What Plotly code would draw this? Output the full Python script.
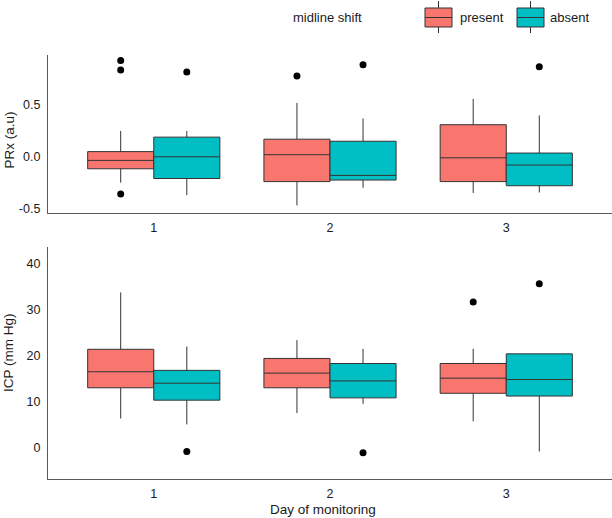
import plotly.graph_objects as go
from plotly.subplots import make_subplots

# ---------------- data ----------------
DAYS = [1, 2, 3]
DAY_LABELS = ["1", "2", "3"]
GROUPS = ["present", "absent"]

# PRx (a.u)
PRX_PRESENT_LOWER = [-0.25, -0.47, -0.35]
PRX_PRESENT_Q1 = [-0.116, -0.24, -0.24]
PRX_PRESENT_MEDIAN = [-0.035, 0.02, -0.01]
PRX_PRESENT_Q3 = [0.05, 0.17, 0.31]
PRX_PRESENT_UPPER = [0.25, 0.52, 0.56]
PRX_PRESENT_OUTLIERS = [[0.93, 0.84, -0.36], [0.78], []]

PRX_ABSENT_LOWER = [-0.37, -0.30, -0.345]
PRX_ABSENT_Q1 = [-0.21, -0.225, -0.28]
PRX_ABSENT_MEDIAN = [0.0, -0.18, -0.08]
PRX_ABSENT_Q3 = [0.19, 0.15, 0.036]
PRX_ABSENT_UPPER = [0.25, 0.37, 0.40]
PRX_ABSENT_OUTLIERS = [[0.82], [0.89], [0.87]]

# ICP (mm Hg)
ICP_PRESENT_LOWER = [6.3, 7.5, 5.7]
ICP_PRESENT_Q1 = [13.0, 13.0, 11.8]
ICP_PRESENT_MEDIAN = [16.5, 16.2, 15.1]
ICP_PRESENT_Q3 = [21.4, 19.4, 18.3]
ICP_PRESENT_UPPER = [33.8, 23.4, 21.5]
ICP_PRESENT_OUTLIERS = [[], [], [31.7]]

ICP_ABSENT_LOWER = [5.0, 9.5, -0.9]
ICP_ABSENT_Q1 = [10.3, 10.8, 11.2]
ICP_ABSENT_MEDIAN = [14.0, 14.5, 14.8]
ICP_ABSENT_Q3 = [16.8, 18.3, 20.4]
ICP_ABSENT_UPPER = [22.0, 21.5, 20.4]
ICP_ABSENT_OUTLIERS = [[-0.9], [-1.2], [35.7]]

# ---------------- style ----------------
COLORS = {"present": "#F8766D", "absent": "#00BFC4"}
DODGE = 0.1875
BOX_W = 0.375
OFFSETS = {"present": -DODGE, "absent": DODGE}
FONT = "Liberation Sans, Arial, Helvetica, sans-serif"
TXT_C = "#1a1a1a"
LINE_C = "#333333"
W, H = 612, 518
ML, MR, MT, MB = 48, 0, 55, 39

panels = [
    (1, {
        "present": (PRX_PRESENT_LOWER, PRX_PRESENT_Q1, PRX_PRESENT_MEDIAN, PRX_PRESENT_Q3, PRX_PRESENT_UPPER, PRX_PRESENT_OUTLIERS),
        "absent": (PRX_ABSENT_LOWER, PRX_ABSENT_Q1, PRX_ABSENT_MEDIAN, PRX_ABSENT_Q3, PRX_ABSENT_UPPER, PRX_ABSENT_OUTLIERS),
    }),
    (2, {
        "present": (ICP_PRESENT_LOWER, ICP_PRESENT_Q1, ICP_PRESENT_MEDIAN, ICP_PRESENT_Q3, ICP_PRESENT_UPPER, ICP_PRESENT_OUTLIERS),
        "absent": (ICP_ABSENT_LOWER, ICP_ABSENT_Q1, ICP_ABSENT_MEDIAN, ICP_ABSENT_Q3, ICP_ABSENT_UPPER, ICP_ABSENT_OUTLIERS),
    }),
]

fig = make_subplots(rows=2, cols=1, vertical_spacing=0.08)

for row, data in panels:
    for g in GROUPS:
        low, q1, med, q3, up, outs = data[g]
        xs = [d + OFFSETS[g] for d in DAYS]
        fig.add_trace(go.Box(
            x=xs, q1=q1, median=med, q3=q3, lowerfence=low, upperfence=up,
            name=g, showlegend=False,
            fillcolor=COLORS[g], line=dict(color=LINE_C, width=1),
            width=BOX_W, whiskerwidth=0, boxpoints=False, hoverinfo="skip",
        ), row=row, col=1)
        ox, oy = [], []
        for x, vals in zip(xs, outs):
            for v in vals:
                ox.append(x)
                oy.append(v)
        fig.add_trace(go.Scatter(
            x=ox, y=oy, mode="markers", showlegend=False,
            marker=dict(color="black", size=7), hoverinfo="skip",
        ), row=row, col=1)

axis_common = dict(showline=True, linecolor="#5a5a5a", linewidth=1.2, showgrid=False,
                   zeroline=False, ticks="", automargin=False,
                   tickfont=dict(family=FONT, size=12.5, color=TXT_C))

fig.update_xaxes(range=[0.4, 3.6], tickvals=DAYS, ticktext=DAY_LABELS,
                 ticklabelstandoff=3, **axis_common)
fig.update_yaxes(ticklabelstandoff=4, **axis_common)

fig.update_xaxes(domain=[0, 1])
fig.update_yaxes(domain=[0.627, 1.0], range=[-0.545, 0.984], tickvals=[-0.5, 0.0, 0.5],
                 ticktext=["-0.5", "0.0", "0.5"], row=1, col=1)
fig.update_yaxes(domain=[0.0, 0.547], range=[-6.9, 43.7], tickvals=[0, 10, 20, 30, 40],
                 row=2, col=1)

# text / legend positions given in full-figure pixels, converted below
PW, PH = W - ML - MR, H - MT - MB


def fx(p):
    return (p - ML) / PW


def fy(p):
    return (H - p - MB) / PH


annotations = []


def add_text(text, x, y, size=13.5, angle=0, xanchor="center"):
    annotations.append(dict(text=text, x=fx(x), y=fy(y), textangle=angle,
                            xref="paper", yref="paper", showarrow=False,
                            xanchor=xanchor, yanchor="middle",
                            font=dict(family=FONT, size=size, color=TXT_C)))


add_text("PRx (a.u)", 8.5, 140, angle=-90)
add_text("ICP (mm Hg)", 8.5, 352.5, angle=-90)
add_text("Day of monitoring", 323, 509.5)
add_text("midline shift", 327, 17.5, size=13)

# legend keys (drawn manually to mimic boxplot glyphs)
shapes = []
LEGEND_KEYS = [("present", 425, 452, 458), ("absent", 517, 544, 548)]
for g, x0, x1, tx in LEGEND_KEYS:
    xm = (x0 + x1) / 2
    shapes.append(dict(type="line", xref="paper", yref="paper", x0=fx(xm), x1=fx(xm),
                       y0=fy(1), y1=fy(33), line=dict(color=LINE_C, width=1)))
    shapes.append(dict(type="rect", xref="paper", yref="paper", x0=fx(x0), x1=fx(x1),
                       y0=fy(8), y1=fy(27), fillcolor=COLORS[g], line=dict(color=LINE_C, width=1)))
    shapes.append(dict(type="line", xref="paper", yref="paper", x0=fx(x0), x1=fx(x1),
                       y0=fy(17.5), y1=fy(17.5), line=dict(color=LINE_C, width=1)))
    add_text(g, tx, 17.5, size=13, xanchor="left")

fig.update_layout(
    width=W, height=H,
    margin=dict(l=ML, r=MR, t=MT, b=MB),
    plot_bgcolor="white", paper_bgcolor="white",
    boxmode="overlay", showlegend=False,
    font=dict(family=FONT, size=13, color=TXT_C),
    annotations=annotations, shapes=shapes,
)

fig.write_html("out.html", config={"displayModeBar": False},
               post_script="document.body.style.margin='0px';document.body.style.overflow='hidden';")
